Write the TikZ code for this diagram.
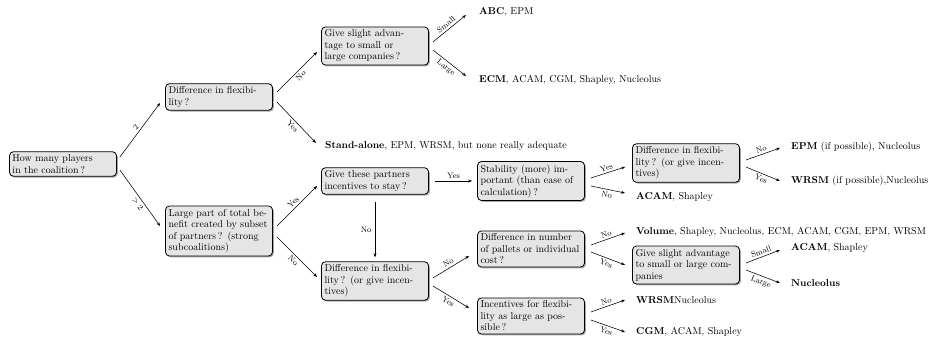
\documentclass[tikz,border=0pt]{standalone}
\usetikzlibrary{shadows,calc,arrows.meta}
\begin{document}
\begin{tikzpicture}[x=1pt,y=-1pt,
  box/.style={draw, line width=0.8pt, rounded corners=4pt, fill=gray!20,
    drop shadow={shadow xshift=1.3pt, shadow yshift=-1.3pt, opacity=0.7},
    text width=101pt, align=left, inner sep=3pt,
    font=\fontsize{10}{11.5}\selectfont},
  leaf/.style={anchor=west, inner sep=0pt, font=\fontsize{10}{12}\selectfont},
  arr/.style={-{Stealth[length=4pt,width=3pt]}, line width=0.55pt},
  lab/.style={font=\footnotesize, sloped, midway, inner sep=2.2pt}]
\useasboundingbox (0,0) rectangle (931,342);

\node[box] (A) at (63,164) {How many players\\in the coalition\,?};
\node[box] (B) at (219,97) {Difference in flexibi-\\lity\,?};
\node[box] (C) at (219,231) {Large part of total be-\\nefit created by subset\\of partners\,? (strong\\subcoalitions)};
\node[box] (D) at (375,46) {Give slight advan-\\tage to small or\\large companies\,?};
\node[box] (E) at (375,181) {Give these partners\\incentives to stay\,?};
\node[box] (F) at (531,181) {Stability (more) im-\\portant (than ease of\\calculation)\,?};
\node[box] (G) at (686,163) {Difference in flexibi-\\lity\,? (or give incen-\\tives)};
\node[box] (H) at (375,281) {Difference in flexibi-\\lity\,? (or give incen-\\tives)};
\node[box] (I) at (531,249) {Difference in number\\of pallets or individual\\cost\,?};
\node[box] (J) at (531,316) {Incentives for flexibi-\\lity as large as pos-\\sible\,?};
\node[box] (K) at (686,265) {Give slight advantage\\to small or large com-\\panies};

\node[leaf] (l1) at (479,12) {\textbf{ABC}, EPM};
\node[leaf] (l2) at (479,80) {\textbf{ECM}, ACAM, CGM, Shapley, Nucleolus};
\node[leaf] (l3) at (325,146) {\textbf{Stand-alone}, EPM, WRSM, but none really adequate};
\node[leaf] (l4) at (791,147) {\textbf{EPM} (if possible), Nucleolus};
\node[leaf] (l5) at (791,181) {\textbf{WRSM} (if possible),Nucleolus};
\node[leaf] (l6) at (636,197) {\textbf{ACAM}, Shapley};
\node[leaf] (l7) at (636,232) {\textbf{Volume}, Shapley, Nucleolus, ECM, ACAM, CGM, EPM, WRSM};
\node[leaf] (l8) at (791,248) {\textbf{ACAM}, Shapley};
\node[leaf] (l9) at (791,283) {\textbf{Nucleolus}};
\node[leaf] (l10) at (636,300) {\textbf{WRSM}Nucleolus};
\node[leaf] (l11) at (636,332) {\textbf{CGM}, ACAM, Shapley};

% from A
\draw[arr] ($(A.east)+(3,-7)$) -- node[lab,above]{$2$} ($(B.west)+(-5,6)$);
\draw[arr] ($(A.east)+(3,6)$) -- node[lab,below,pos=0.55]{$>2$} ($(C.west)+(-5,-5)$);
% from B
\draw[arr] ($(B.east)+(4,-5)$) -- node[lab,below]{No} ($(D.west)+(-4,6)$);
\draw[arr] ($(B.east)+(4,5)$) -- node[lab,below]{Yes} ($(l3.west)+(-9,-3)$);
% from C
\draw[arr] ($(C.east)+(4,-5)$) -- node[lab,above]{Yes} ($(E.west)+(-4,5)$);
\draw[arr] ($(C.east)+(4,6)$) -- node[lab,below]{No} ($(H.west)+(-4,-4)$);
% from D
\draw[arr] ($(D.east)+(4,-4)$) -- node[lab,above]{Small} ($(l1.west)+(-13,3)$);
\draw[arr] ($(D.east)+(4,4)$) -- node[lab,below]{Large} ($(l2.west)+(-13,-4)$);
% from E
\draw[arr] ($(E.east)+(6,0)$) -- node[lab,above]{Yes} ($(F.west)+(-5,0)$);
\draw[arr] ($(E.south)+(0,7)$) -- node[font=\footnotesize,left,midway]{No} ($(H.north)+(0,-4)$);
% from F
\draw[arr] ($(F.east)+(6,-3)$) -- node[lab,above]{Yes} ($(G.west)+(-7,4)$);
\draw[arr] ($(F.east)+(6,5)$) -- node[lab,below]{No} ($(l6.west)+(-11,-4)$);
% from G
\draw[arr] ($(G.east)+(6,-3)$) -- node[lab,above]{No} ($(l4.west)+(-11,1)$);
\draw[arr] ($(G.east)+(6,4)$) -- node[lab,below]{Yes} ($(l5.west)+(-11,0)$);
% from H
\draw[arr] ($(H.east)+(4,-3)$) -- node[lab,above]{No} ($(I.west)+(-8,7)$);
\draw[arr] ($(H.east)+(4,5)$) -- node[lab,below]{Yes} ($(J.west)+(-8,-8)$);
% from I
\draw[arr] ($(I.east)+(6,-4)$) -- node[lab,above]{No} ($(l7.west)+(-11,1)$);
\draw[arr] ($(I.east)+(6,3)$) -- node[lab,below]{Yes} ($(K.west)+(-7,0)$);
% from K
\draw[arr] ($(K.east)+(6,-2)$) -- node[lab,above]{Small} ($(l8.west)+(-11,2)$);
\draw[arr] ($(K.east)+(6,5)$) -- node[lab,below]{Large} ($(l9.west)+(-11,0)$);
% from J
\draw[arr] ($(J.east)+(6,-4)$) -- node[lab,above]{No} ($(l10.west)+(-11,0)$);
\draw[arr] ($(J.east)+(6,4)$) -- node[lab,below]{Yes} ($(l11.west)+(-11,0)$);
\end{tikzpicture}
\end{document}
